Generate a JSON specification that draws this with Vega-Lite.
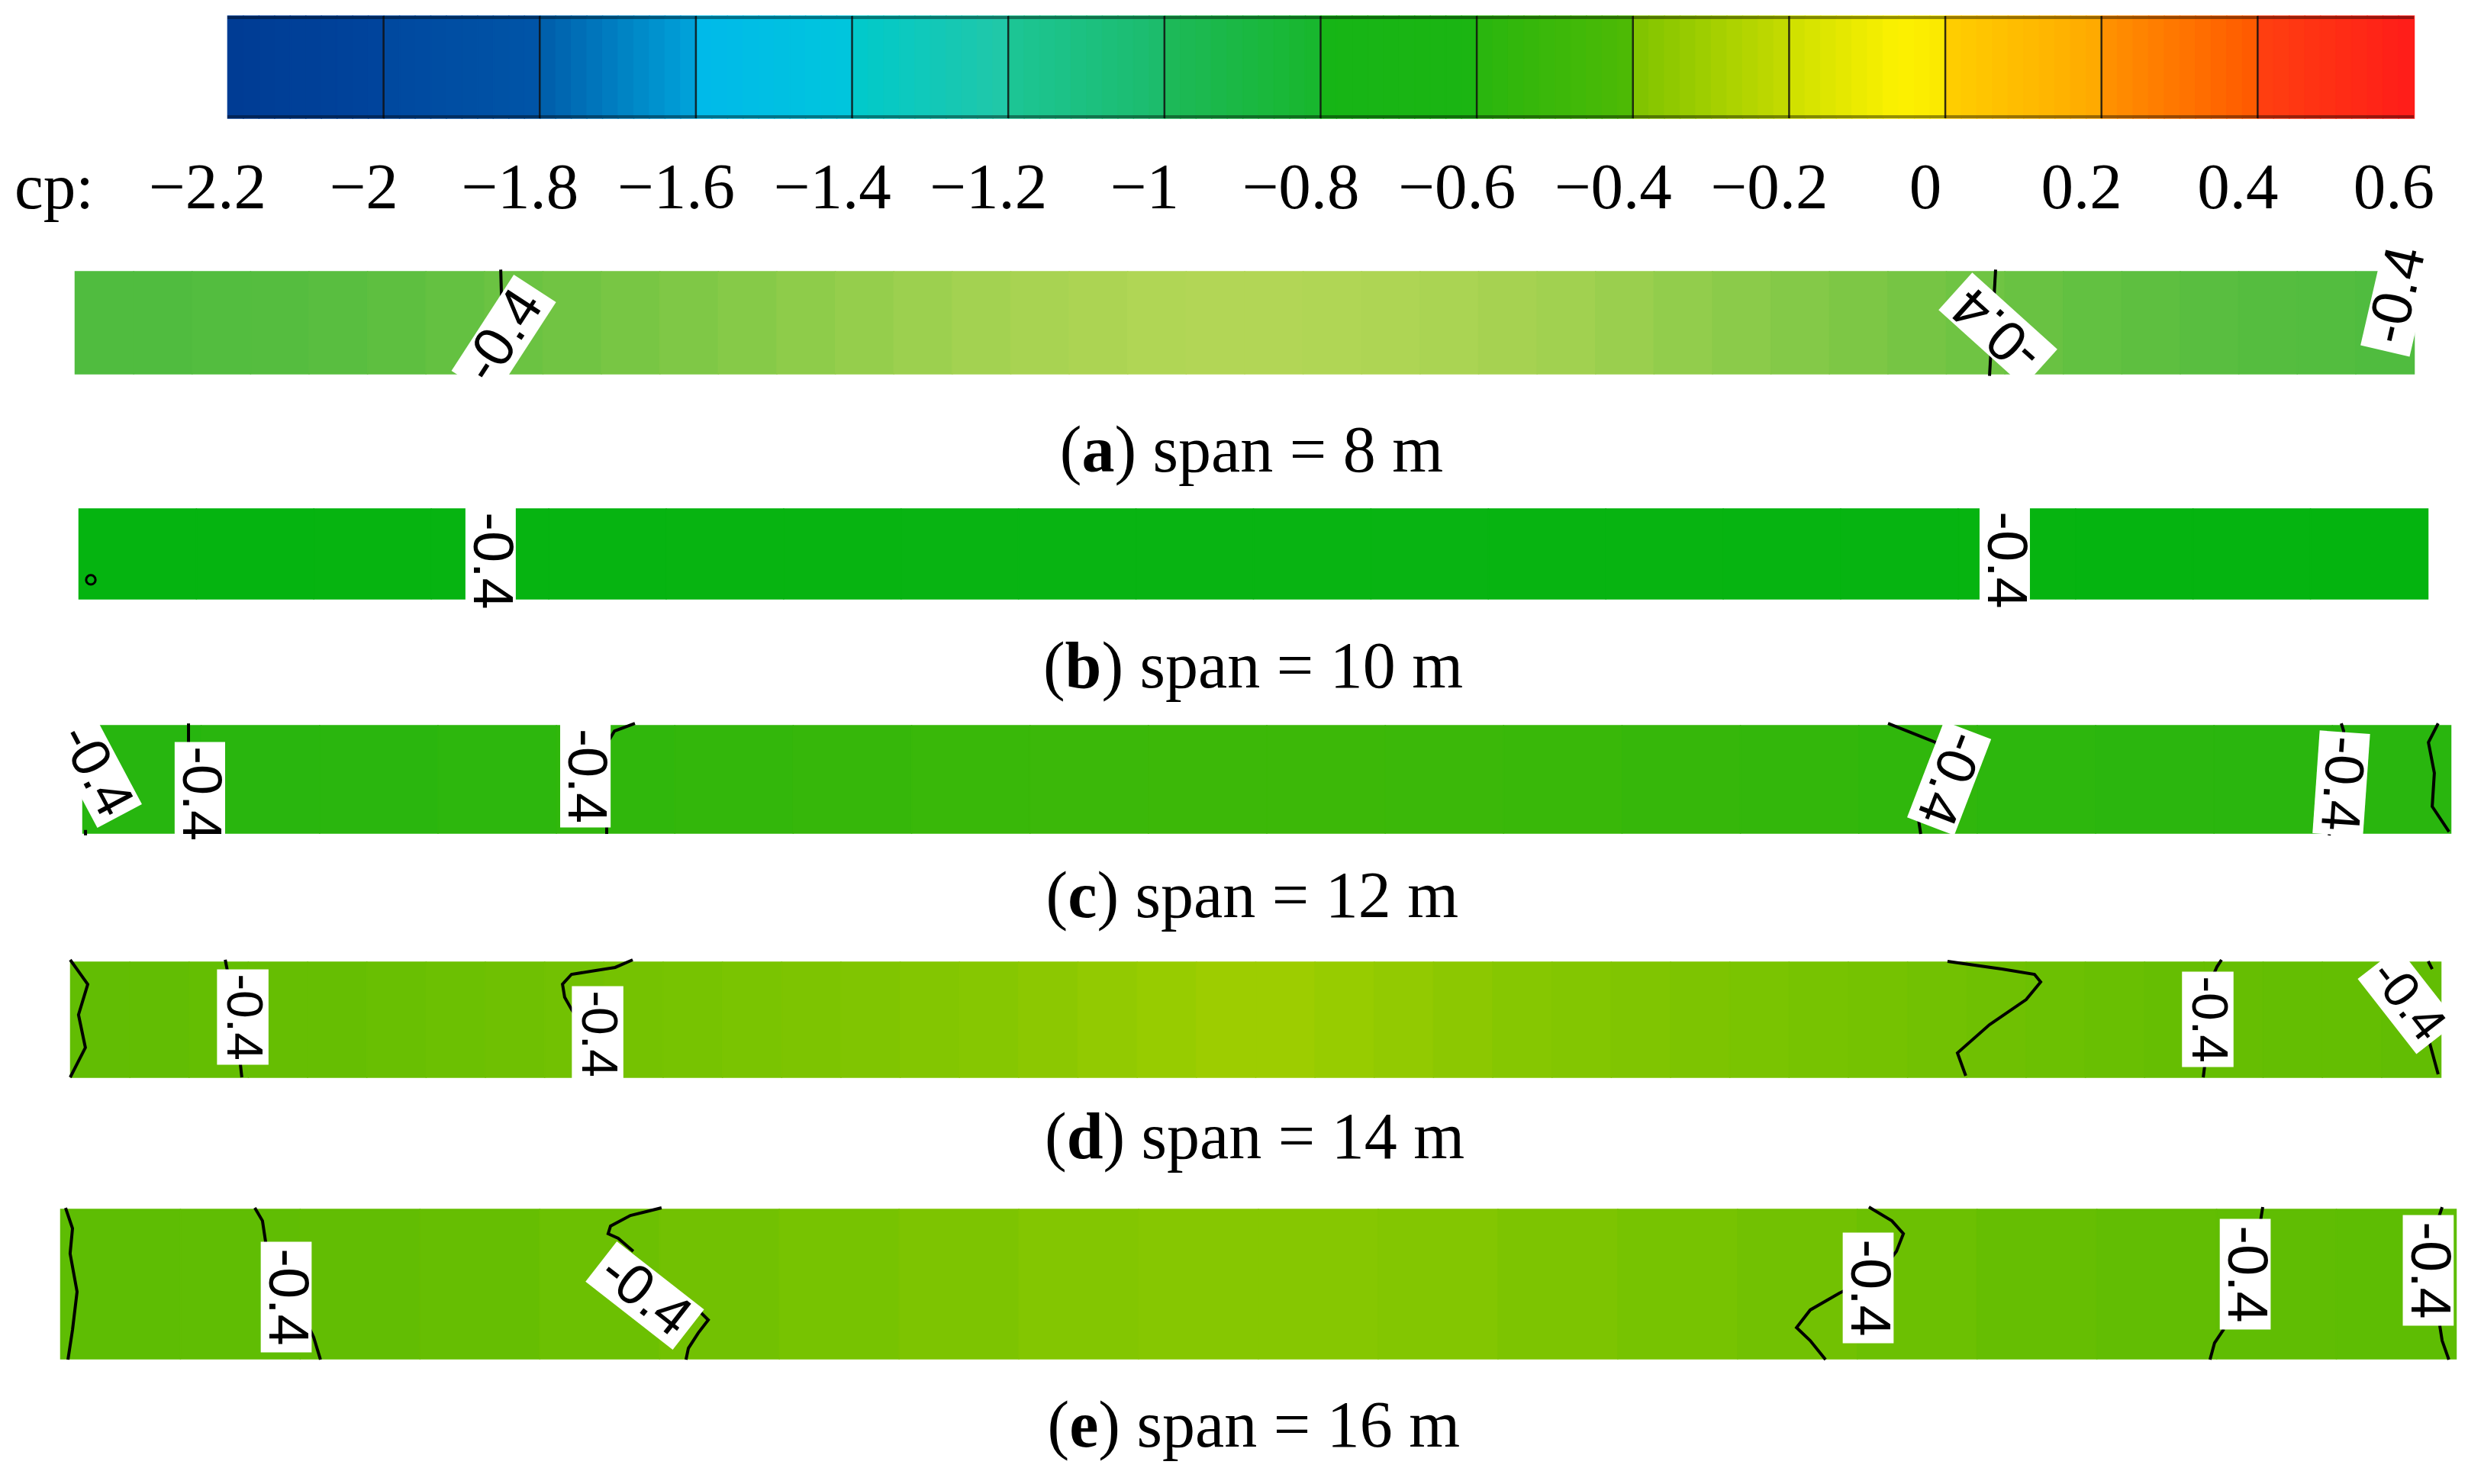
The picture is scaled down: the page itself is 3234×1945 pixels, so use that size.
{
"$schema":"https://vega.github.io/schema/vega-lite/v6.json",
"width":3234,"height":1945,
"autosize":{"type":"fit","contains":"padding"},
"padding":0,
"background":"white",
"config":{"view":{"stroke":null}},
"resolve":{"scale":{"x":"independent","y":"independent","fill":"independent","stroke":"independent","color":"independent"}},
"datasets":{
"cb":[{"cp":-2.19},{"cp":-2.17},{"cp":-2.15},{"cp":-2.13},{"cp":-2.11},{"cp":-2.09},{"cp":-2.07},{"cp":-2.05},{"cp":-2.03},{"cp":-2.01},{"cp":-1.99},{"cp":-1.97},{"cp":-1.95},{"cp":-1.93},{"cp":-1.91},{"cp":-1.89},{"cp":-1.87},{"cp":-1.85},{"cp":-1.83},{"cp":-1.81},{"cp":-1.79},{"cp":-1.77},{"cp":-1.75},{"cp":-1.73},{"cp":-1.71},{"cp":-1.69},{"cp":-1.67},{"cp":-1.65},{"cp":-1.63},{"cp":-1.61},{"cp":-1.59},{"cp":-1.57},{"cp":-1.55},{"cp":-1.53},{"cp":-1.51},{"cp":-1.49},{"cp":-1.47},{"cp":-1.45},{"cp":-1.43},{"cp":-1.41},{"cp":-1.39},{"cp":-1.37},{"cp":-1.35},{"cp":-1.33},{"cp":-1.31},{"cp":-1.29},{"cp":-1.27},{"cp":-1.25},{"cp":-1.23},{"cp":-1.21},{"cp":-1.19},{"cp":-1.17},{"cp":-1.15},{"cp":-1.13},{"cp":-1.11},{"cp":-1.09},{"cp":-1.07},{"cp":-1.05},{"cp":-1.03},{"cp":-1.01},{"cp":-0.99},{"cp":-0.97},{"cp":-0.95},{"cp":-0.93},{"cp":-0.91},{"cp":-0.89},{"cp":-0.87},{"cp":-0.85},{"cp":-0.83},{"cp":-0.81},{"cp":-0.79},{"cp":-0.77},{"cp":-0.75},{"cp":-0.73},{"cp":-0.71},{"cp":-0.69},{"cp":-0.67},{"cp":-0.65},{"cp":-0.63},{"cp":-0.61},{"cp":-0.59},{"cp":-0.57},{"cp":-0.55},{"cp":-0.53},{"cp":-0.51},{"cp":-0.49},{"cp":-0.47},{"cp":-0.45},{"cp":-0.43},{"cp":-0.41},{"cp":-0.39},{"cp":-0.37},{"cp":-0.35},{"cp":-0.33},{"cp":-0.31},{"cp":-0.29},{"cp":-0.27},{"cp":-0.25},{"cp":-0.23},{"cp":-0.21},{"cp":-0.19},{"cp":-0.17},{"cp":-0.15},{"cp":-0.13},{"cp":-0.11},{"cp":-0.09},{"cp":-0.07},{"cp":-0.05},{"cp":-0.03},{"cp":-0.01},{"cp":0.01},{"cp":0.03},{"cp":0.05},{"cp":0.07},{"cp":0.09},{"cp":0.11},{"cp":0.13},{"cp":0.15},{"cp":0.17},{"cp":0.19},{"cp":0.21},{"cp":0.23},{"cp":0.25},{"cp":0.27},{"cp":0.29},{"cp":0.31},{"cp":0.33},{"cp":0.35},{"cp":0.37},{"cp":0.39},{"cp":0.41},{"cp":0.43},{"cp":0.45},{"cp":0.47},{"cp":0.49},{"cp":0.51},{"cp":0.53},{"cp":0.55},{"cp":0.57},{"cp":0.59}],
"cbLevels":[{"v":-2.0},{"v":-1.8},{"v":-1.6},{"v":-1.4},{"v":-1.2},{"v":-1.0},{"v":-0.8},{"v":-0.6},{"v":-0.4},{"v":-0.2},{"v":0},{"v":0.2},{"v":0.4}],
"cbTicks":[{"cp":-2.2},{"cp":-2},{"cp":-1.8},{"cp":-1.6},{"cp":-1.4},{"cp":-1.2},{"cp":-1},{"cp":-0.8},{"cp":-0.6},{"cp":-0.4},{"cp":-0.2},{"cp":0},{"cp":0.2},{"cp":0.4},{"cp":0.6}],
"stripA":[{"s":0.0125,"cp":-0.49},{"s":0.0375,"cp":-0.49},{"s":0.0625,"cp":-0.485},{"s":0.0875,"cp":-0.48},{"s":0.1125,"cp":-0.47},{"s":0.1375,"cp":-0.46},{"s":0.1625,"cp":-0.445},{"s":0.1875,"cp":-0.43},{"s":0.2125,"cp":-0.415},{"s":0.2375,"cp":-0.4},{"s":0.2625,"cp":-0.385},{"s":0.2875,"cp":-0.37},{"s":0.3125,"cp":-0.355},{"s":0.3375,"cp":-0.34},{"s":0.3625,"cp":-0.325},{"s":0.3875,"cp":-0.31},{"s":0.4125,"cp":-0.3},{"s":0.4375,"cp":-0.29},{"s":0.4625,"cp":-0.28},{"s":0.4875,"cp":-0.275},{"s":0.5125,"cp":-0.275},{"s":0.5375,"cp":-0.28},{"s":0.5625,"cp":-0.285},{"s":0.5875,"cp":-0.295},{"s":0.6125,"cp":-0.305},{"s":0.6375,"cp":-0.315},{"s":0.6625,"cp":-0.33},{"s":0.6875,"cp":-0.345},{"s":0.7125,"cp":-0.36},{"s":0.7375,"cp":-0.375},{"s":0.7625,"cp":-0.39},{"s":0.7875,"cp":-0.405},{"s":0.8125,"cp":-0.42},{"s":0.8375,"cp":-0.435},{"s":0.8625,"cp":-0.45},{"s":0.8875,"cp":-0.46},{"s":0.9125,"cp":-0.47},{"s":0.9375,"cp":-0.48},{"s":0.9625,"cp":-0.485},{"s":0.9875,"cp":-0.49}],
"stripB":[{"s":0.025,"cp":-0.74},{"s":0.075,"cp":-0.735},{"s":0.125,"cp":-0.73},{"s":0.175,"cp":-0.725},{"s":0.225,"cp":-0.72},{"s":0.275,"cp":-0.715},{"s":0.325,"cp":-0.71},{"s":0.375,"cp":-0.705},{"s":0.425,"cp":-0.7},{"s":0.475,"cp":-0.7},{"s":0.525,"cp":-0.7},{"s":0.575,"cp":-0.705},{"s":0.625,"cp":-0.71},{"s":0.675,"cp":-0.715},{"s":0.725,"cp":-0.72},{"s":0.775,"cp":-0.725},{"s":0.825,"cp":-0.73},{"s":0.875,"cp":-0.735},{"s":0.925,"cp":-0.74},{"s":0.975,"cp":-0.745}],
"stripC":[{"s":0.025,"cp":-0.57},{"s":0.075,"cp":-0.565},{"s":0.125,"cp":-0.56},{"s":0.175,"cp":-0.55},{"s":0.225,"cp":-0.54},{"s":0.275,"cp":-0.53},{"s":0.325,"cp":-0.52},{"s":0.375,"cp":-0.51},{"s":0.425,"cp":-0.505},{"s":0.475,"cp":-0.5},{"s":0.525,"cp":-0.5},{"s":0.575,"cp":-0.505},{"s":0.625,"cp":-0.51},{"s":0.675,"cp":-0.52},{"s":0.725,"cp":-0.53},{"s":0.775,"cp":-0.54},{"s":0.825,"cp":-0.55},{"s":0.875,"cp":-0.555},{"s":0.925,"cp":-0.56},{"s":0.975,"cp":-0.565}],
"stripD":[{"s":0.0125,"cp":-0.41},{"s":0.0375,"cp":-0.41},{"s":0.0625,"cp":-0.405},{"s":0.0875,"cp":-0.4},{"s":0.1125,"cp":-0.4},{"s":0.1375,"cp":-0.395},{"s":0.1625,"cp":-0.39},{"s":0.1875,"cp":-0.385},{"s":0.2125,"cp":-0.38},{"s":0.2375,"cp":-0.375},{"s":0.2625,"cp":-0.37},{"s":0.2875,"cp":-0.365},{"s":0.3125,"cp":-0.36},{"s":0.3375,"cp":-0.355},{"s":0.3625,"cp":-0.35},{"s":0.3875,"cp":-0.345},{"s":0.4125,"cp":-0.335},{"s":0.4375,"cp":-0.325},{"s":0.4625,"cp":-0.315},{"s":0.4875,"cp":-0.305},{"s":0.5125,"cp":-0.305},{"s":0.5375,"cp":-0.315},{"s":0.5625,"cp":-0.325},{"s":0.5875,"cp":-0.335},{"s":0.6125,"cp":-0.345},{"s":0.6375,"cp":-0.35},{"s":0.6625,"cp":-0.355},{"s":0.6875,"cp":-0.36},{"s":0.7125,"cp":-0.365},{"s":0.7375,"cp":-0.37},{"s":0.7625,"cp":-0.375},{"s":0.7875,"cp":-0.38},{"s":0.8125,"cp":-0.385},{"s":0.8375,"cp":-0.39},{"s":0.8625,"cp":-0.395},{"s":0.8875,"cp":-0.4},{"s":0.9125,"cp":-0.4},{"s":0.9375,"cp":-0.405},{"s":0.9625,"cp":-0.405},{"s":0.9875,"cp":-0.41}],
"stripE":[{"s":0.025,"cp":-0.42},{"s":0.075,"cp":-0.415},{"s":0.125,"cp":-0.41},{"s":0.175,"cp":-0.4},{"s":0.225,"cp":-0.39},{"s":0.275,"cp":-0.38},{"s":0.325,"cp":-0.37},{"s":0.375,"cp":-0.36},{"s":0.425,"cp":-0.35},{"s":0.475,"cp":-0.345},{"s":0.525,"cp":-0.345},{"s":0.575,"cp":-0.35},{"s":0.625,"cp":-0.36},{"s":0.675,"cp":-0.37},{"s":0.725,"cp":-0.38},{"s":0.775,"cp":-0.39},{"s":0.825,"cp":-0.4},{"s":0.875,"cp":-0.41},{"s":0.925,"cp":-0.415},{"s":0.975,"cp":-0.42}],
"contA":[{"c":"c1","i":0,"s":0.1821,"t":1.02},{"c":"c1","i":1,"s":0.1834,"t":-0.02},{"c":"c2","i":0,"s":0.8212,"t":1.02},{"c":"c2","i":1,"s":0.8186,"t":-0.02}],
"labA":[{"s":0.1834,"t":0.366,"rot":-57,"lab":"-0.4"},{"s":0.8222,"t":0.433,"rot":-138,"lab":"-0.4"},{"s":0.9932,"t":0.769,"rot":-77,"lab":"-0.4"}],
"labB":[{"s":0.1754,"t":0.4237,"rot":90,"lab":"-0.4"},{"s":0.82,"t":0.4322,"rot":90,"lab":"-0.4"}],
"loopB":[{"s":0.0052,"t":0.212}],
"contC":[{"c":"c0","i":0,"s":0.0013,"t":0.03},{"c":"c0","i":1,"s":0.0013,"t":-0.02},
{"c":"c1","i":0,"s":0.0448,"t":1.02},{"c":"c1","i":1,"s":0.0448,"t":0.8},
{"c":"c2","i":0,"s":0.2214,"t":0.83},{"c":"c2","i":1,"s":0.2247,"t":0.95},{"c":"c2","i":2,"s":0.2333,"t":1.021},
{"c":"c2b","i":0,"s":0.2214,"t":0.085},{"c":"c2b","i":1,"s":0.2214,"t":-0.007},
{"c":"c3","i":0,"s":0.7625,"t":1.021},{"c":"c3","i":1,"s":0.7825,"t":0.844},{"c":"c3","i":2,"s":0.7883,"t":0.652},
{"c":"c3b","i":0,"s":0.7773,"t":0.298},{"c":"c3b","i":1,"s":0.7754,"t":0.121},{"c":"c3b","i":2,"s":0.7763,"t":-0.007},
{"c":"c4","i":0,"s":0.9539,"t":1.021},{"c":"c4","i":1,"s":0.9549,"t":0.95},{"c":"c4","i":2,"s":0.9546,"t":0.723},
{"c":"c4b","i":0,"s":0.9497,"t":0.156},{"c":"c4b","i":1,"s":0.9488,"t":-0.021},
{"c":"c5","i":0,"s":0.9948,"t":1.021},{"c":"c5","i":1,"s":0.9907,"t":0.844},{"c":"c5","i":2,"s":0.9932,"t":0.56},{"c":"c5","i":3,"s":0.9923,"t":0.248},{"c":"c5","i":4,"s":0.9994,"t":0.014}],
"labC":[{"s":0.0055,"t":0.5816,"rot":62,"lab":"-0.4"},{"s":0.0496,"t":0.3688,"rot":90,"lab":"-0.4"},{"s":0.2124,"t":0.5319,"rot":90,"lab":"-0.4"},{"s":0.7883,"t":0.5106,"rot":111,"lab":"-0.4"},{"s":0.9539,"t":0.461,"rot":94,"lab":"-0.4"}],
"contD":[{"c":"c1","i":0,"s":0,"t":1.02},{"c":"c1","i":1,"s":0.0074,"t":0.808},{"c":"c1","i":2,"s":0.0035,"t":0.543},{"c":"c1","i":3,"s":0.0064,"t":0.258},{"c":"c1","i":4,"s":0,"t":0},
{"c":"c2","i":0,"s":0.0654,"t":1.02},{"c":"c2","i":1,"s":0.0663,"t":0.927},{"c":"c2","i":2,"s":0.067,"t":0.742},
{"c":"c2b","i":0,"s":0.0708,"t":0.212},{"c":"c2b","i":1,"s":0.0718,"t":0.113},{"c":"c2b","i":2,"s":0.0724,"t":0},
{"c":"c3","i":0,"s":0.2373,"t":1.02},{"c":"c3","i":1,"s":0.2299,"t":0.954},{"c":"c3","i":2,"s":0.2115,"t":0.894},{"c":"c3","i":3,"s":0.2077,"t":0.808},{"c":"c3","i":4,"s":0.2086,"t":0.695},{"c":"c3","i":5,"s":0.2115,"t":0.589},{"c":"c3","i":6,"s":0.2151,"t":0.477},
{"c":"c4","i":0,"s":0.792,"t":1.007},{"c":"c4","i":1,"s":0.8149,"t":0.94},{"c":"c4","i":2,"s":0.8287,"t":0.894},{"c":"c4","i":3,"s":0.8313,"t":0.828},{"c":"c4","i":4,"s":0.8252,"t":0.675},{"c":"c4","i":5,"s":0.8097,"t":0.457},{"c":"c4","i":6,"s":0.7962,"t":0.212},{"c":"c4","i":7,"s":0.7997,"t":0.013},
{"c":"c5","i":0,"s":0.9076,"t":1.02},{"c":"c5","i":1,"s":0.9057,"t":0.96},{"c":"c5","i":2,"s":0.9024,"t":0.808},
{"c":"c5b","i":0,"s":0.9008,"t":0.212},{"c":"c5b","i":1,"s":0.9005,"t":0.099},{"c":"c5b","i":2,"s":0.8999,"t":0},
{"c":"c6","i":0,"s":0.9948,"t":1.007},{"c":"c6","i":1,"s":0.9965,"t":0.94},
{"c":"c6b","i":0,"s":0.9948,"t":0.344},{"c":"c6b","i":1,"s":0.999,"t":0.026}],
"labD":[{"s":0.0728,"t":0.5232,"rot":90,"lab":"-0.4"},{"s":0.2225,"t":0.3775,"rot":90,"lab":"-0.4"},{"s":0.9018,"t":0.5033,"rot":90,"lab":"-0.4"},{"s":0.986,"t":0.665,"rot":52,"lab":"-0.4"}],
"contE":[{"c":"c1","i":0,"s":0.0022,"t":1.01},{"c":"c1","i":1,"s":0.0051,"t":0.872},{"c":"c1","i":2,"s":0.0041,"t":0.704},{"c":"c1","i":3,"s":0.007,"t":0.449},{"c":"c1","i":4,"s":0.0051,"t":0.194},{"c":"c1","i":5,"s":0.0032,"t":-0.005},
{"c":"c2","i":0,"s":0.0812,"t":1.01},{"c":"c2","i":1,"s":0.0844,"t":0.923},{"c":"c2","i":2,"s":0.0863,"t":0.719},
{"c":"c2b","i":0,"s":0.1039,"t":0.209},{"c":"c2b","i":1,"s":0.1058,"t":0.143},{"c":"c2b","i":2,"s":0.1086,"t":-0.005},
{"c":"c3","i":0,"s":0.251,"t":1.01},{"c":"c3","i":1,"s":0.2459,"t":0.99},{"c":"c3","i":2,"s":0.238,"t":0.959},{"c":"c3","i":3,"s":0.2297,"t":0.888},{"c":"c3","i":4,"s":0.2287,"t":0.837},{"c":"c3","i":5,"s":0.2329,"t":0.806},{"c":"c3","i":6,"s":0.2392,"t":0.719},
{"c":"c3b","i":0,"s":0.2631,"t":0.362},{"c":"c3b","i":1,"s":0.2673,"t":0.311},{"c":"c3b","i":2,"s":0.2705,"t":0.26},{"c":"c3b","i":3,"s":0.2663,"t":0.173},{"c":"c3b","i":4,"s":0.2622,"t":0.071},{"c":"c3b","i":5,"s":0.2612,"t":-0.005},
{"c":"c4","i":0,"s":0.755,"t":1.015},{"c":"c4","i":1,"s":0.7646,"t":0.923},{"c":"c4","i":2,"s":0.7694,"t":0.837},{"c":"c4","i":3,"s":0.7665,"t":0.719},{"c":"c4","i":4,"s":0.7617,"t":0.617},
{"c":"c4b","i":0,"s":0.7458,"t":0.464},{"c":"c4b","i":1,"s":0.7426,"t":0.439},{"c":"c4b","i":2,"s":0.7305,"t":0.327},{"c":"c4b","i":3,"s":0.7248,"t":0.209},{"c":"c4b","i":4,"s":0.7305,"t":0.122},{"c":"c4b","i":5,"s":0.7369,"t":-0.005},
{"c":"c5","i":0,"s":0.9194,"t":1.015},{"c":"c5","i":1,"s":0.9185,"t":0.923},
{"c":"c5b","i":0,"s":0.9032,"t":0.199},{"c":"c5b","i":1,"s":0.8993,"t":0.107},{"c":"c5b","i":2,"s":0.8974,"t":-0.005},
{"c":"c6","i":0,"s":0.9943,"t":1.015},{"c":"c6","i":1,"s":0.9924,"t":0.923},
{"c":"c6b","i":0,"s":0.9933,"t":0.224},{"c":"c6b","i":1,"s":0.9943,"t":0.122},{"c":"c6b","i":2,"s":0.9971,"t":-0.005}],
"labE":[{"s":0.0943,"t":0.4133,"rot":90,"lab":"-0.4"},{"s":0.244,"t":0.4235,"rot":38,"lab":"-0.4"},{"s":0.7547,"t":0.4745,"rot":90,"lab":"-0.4"},{"s":0.9121,"t":0.5663,"rot":90,"lab":"-0.4"},{"s":0.9885,"t":0.5918,"rot":90,"lab":"-0.4"}],
"capA":[{"open":"(","letter":"a","rest":") span = 8 m"}],
"capB":[{"open":"(","letter":"b","rest":") span = 10 m"}],
"capC":[{"open":"(","letter":"c","rest":") span = 12 m"}],
"capD":[{"open":"(","letter":"d","rest":") span = 14 m"}],
"capE":[{"open":"(","letter":"e","rest":") span = 16 m"}],
"cpTitle":[{"t":"cp:"}]
},
"layer":[
{"layer":[
 {"data":{"name":"cb"},"mark":{"type":"rect","binSpacing":0,"strokeWidth":1.5},
  "encoding":{"x":{"field":"cp","type":"quantitative","bin":{"step":0.02,"extent":[-2.2,0.6]},"scale":{"domain":[-2.4912,0.6694],"nice":false,"zero":false},"axis":null},
   "y":{"datum":0,"type":"quantitative","scale":{"domain":[-13.35821,1.15672],"nice":false,"zero":false},"axis":null},"y2":{"datum":1},
   "fill":{"field":"cp","type":"quantitative","legend":null,"scale":{"domain":[-2.2,-2.0,-1.9999,-1.8,-1.7999,-1.6,-1.5999,-1.4,-1.3999,-1.2,-1.1999,-1.0,-0.9999,-0.8,-0.7999,-0.6,-0.5999,-0.4,-0.3999,-0.2,-0.1999,-0.06,0,0.0001,0.2,0.2001,0.4,0.4001,0.6],"range":["#003c94","#00449c","#00489f","#0055a7","#005caa","#00a4da","#00b9ea","#00c6dc","#00c9cc","#22c8a6","#1cc596","#1cbb6a","#1db95a","#18b72c","#16b516","#1bb512","#28b60e","#4fba05","#7ec300","#c6db00","#cee000","#fcf100","#fbe900","#ffcf00","#ffa800","#ff9300","#ff5800","#ff4010","#ff1c1a"],"interpolate":"rgb"}},
   "stroke":{"field":"cp","type":"quantitative","legend":null,"scale":{"domain":[-2.2,-2.0,-1.9999,-1.8,-1.7999,-1.6,-1.5999,-1.4,-1.3999,-1.2,-1.1999,-1.0,-0.9999,-0.8,-0.7999,-0.6,-0.5999,-0.4,-0.3999,-0.2,-0.1999,-0.06,0,0.0001,0.2,0.2001,0.4,0.4001,0.6],"range":["#003c94","#00449c","#00489f","#0055a7","#005caa","#00a4da","#00b9ea","#00c6dc","#00c9cc","#22c8a6","#1cc596","#1cbb6a","#1db95a","#18b72c","#16b516","#1bb512","#28b60e","#4fba05","#7ec300","#c6db00","#cee000","#fcf100","#fbe900","#ffcf00","#ffa800","#ff9300","#ff5800","#ff4010","#ff1c1a"],"interpolate":"rgb"}}}},
 {"data":{"name":"cbLevels"},"mark":{"type":"rule","color":"#111111","strokeWidth":2.5,"opacity":0.85},
  "encoding":{"x":{"field":"v","type":"quantitative","scale":{"domain":[-2.4912,0.6694],"nice":false,"zero":false},"axis":null},
   "y":{"datum":0,"type":"quantitative","scale":{"domain":[-13.35821,1.15672],"nice":false,"zero":false},"axis":null},"y2":{"datum":1}}},
 {"data":{"values":[{}]},"mark":{"type":"rule","color":"#000000","strokeWidth":4,"opacity":0.4},
  "encoding":{"x":{"datum":-2.2,"type":"quantitative","scale":{"domain":[-2.4912,0.6694],"nice":false,"zero":false},"axis":null},"x2":{"datum":0.6},
   "y":{"datum":0.985,"type":"quantitative","scale":{"domain":[-13.35821,1.15672],"nice":false,"zero":false},"axis":null}}},
 {"data":{"values":[{}]},"mark":{"type":"rule","color":"#000000","strokeWidth":4,"opacity":0.4},
  "encoding":{"x":{"datum":-2.2,"type":"quantitative","scale":{"domain":[-2.4912,0.6694],"nice":false,"zero":false},"axis":null},"x2":{"datum":0.6},
   "y":{"datum":0.015,"type":"quantitative","scale":{"domain":[-13.35821,1.15672],"nice":false,"zero":false},"axis":null}}},
 {"data":{"name":"cbTicks"},"mark":{"type":"text","font":"Liberation Serif","fontSize":85,"baseline":"alphabetic","align":"center","dx":-26,"color":"#000000"},
  "encoding":{"x":{"field":"cp","type":"quantitative","scale":{"domain":[-2.4912,0.6694],"nice":false,"zero":false},"axis":null},
   "y":{"datum":-0.8806,"type":"quantitative","scale":{"domain":[-13.35821,1.15672],"nice":false,"zero":false},"axis":null},
   "text":{"field":"cp","type":"quantitative","format":"~g"}}},
 {"data":{"name":"cpTitle"},"mark":{"type":"text","font":"Liberation Serif","fontSize":85,"baseline":"alphabetic","align":"left","color":"#000000"},
  "encoding":{"x":{"datum":-2.4726,"type":"quantitative","scale":{"domain":[-2.4912,0.6694],"nice":false,"zero":false},"axis":null},
   "y":{"datum":-0.8806,"type":"quantitative","scale":{"domain":[-13.35821,1.15672],"nice":false,"zero":false},"axis":null},
   "text":{"field":"t"}}}
]},
{"layer":[
 {"data":{"name":"stripA"},"mark":{"type":"rect","binSpacing":0,"strokeWidth":1.5},
  "encoding":{"x":{"field":"s","type":"quantitative","bin":{"step":0.025,"extent":[0,1]},"scale":{"domain":[-0.03197,1.02316],"nice":false,"zero":false},"axis":null},
   "y":{"datum":0,"type":"quantitative","scale":{"domain":[-10.85821,3.65672],"nice":false,"zero":false},"axis":null},"y2":{"datum":1},
   "fill":{"field":"cp","type":"quantitative","legend":null,"scale":{"domain":[-0.8,-0.7,-0.6,-0.5,-0.4,-0.3,-0.2,0],"range":["#2ab83c","#30b93e","#3cba40","#4cbb3e","#78c644","#a8d352","#cfe060","#fff060"],"interpolate":"rgb"}},
   "stroke":{"field":"cp","type":"quantitative","legend":null,"scale":{"domain":[-0.8,-0.7,-0.6,-0.5,-0.4,-0.3,-0.2,0],"range":["#2ab83c","#30b93e","#3cba40","#4cbb3e","#78c644","#a8d352","#cfe060","#fff060"],"interpolate":"rgb"}}}},
 {"data":{"name":"contA"},"mark":{"type":"line","color":"#000000","strokeWidth":4},
  "encoding":{"x":{"field":"s","type":"quantitative","scale":{"domain":[-0.03197,1.02316],"nice":false,"zero":false},"axis":null},
   "y":{"field":"t","type":"quantitative","scale":{"domain":[-10.85821,3.65672],"nice":false,"zero":false},"axis":null},
   "detail":{"field":"c","type":"nominal"},"order":{"field":"i","type":"quantitative"}}},
 {"data":{"name":"labA"},"mark":{"type":"point","shape":"M-1,-0.44H1V0.44H-1Z","filled":true,"color":"white","opacity":1,"strokeWidth":0,"size":22500},
  "encoding":{"x":{"field":"s","type":"quantitative","scale":{"domain":[-0.03197,1.02316],"nice":false,"zero":false},"axis":null},
   "y":{"field":"t","type":"quantitative","scale":{"domain":[-10.85821,3.65672],"nice":false,"zero":false},"axis":null},
   "angle":{"field":"rot","type":"quantitative","scale":null}}},
 {"data":{"name":"labA"},"mark":{"type":"text","font":"Liberation Sans","fontSize":74,"align":"center","baseline":"middle","color":"#000000"},
  "encoding":{"x":{"field":"s","type":"quantitative","scale":{"domain":[-0.03197,1.02316],"nice":false,"zero":false},"axis":null},
   "y":{"field":"t","type":"quantitative","scale":{"domain":[-10.85821,3.65672],"nice":false,"zero":false},"axis":null},
   "angle":{"field":"rot","type":"quantitative","scale":null},"text":{"field":"lab"}}},
 {"data":{"name":"capA"},"mark":{"type":"text","font":"Liberation Serif","fontSize":86,"align":"right","baseline":"middle","dx":-222.6,"color":"#000000"},
  "encoding":{"x":{"datum":0.5031,"type":"quantitative","scale":{"domain":[-0.03197,1.02316],"nice":false,"zero":false},"axis":null},
   "y":{"datum":-0.761,"type":"quantitative","scale":{"domain":[-10.85821,3.65672],"nice":false,"zero":false},"axis":null},"text":{"field":"open"}}},
 {"data":{"name":"capA"},"mark":{"type":"text","font":"Liberation Serif","fontSize":86,"fontWeight":"bold","align":"left","baseline":"middle","dx":-222.6,"color":"#000000"},
  "encoding":{"x":{"datum":0.5031,"type":"quantitative","scale":{"domain":[-0.03197,1.02316],"nice":false,"zero":false},"axis":null},
   "y":{"datum":-0.761,"type":"quantitative","scale":{"domain":[-10.85821,3.65672],"nice":false,"zero":false},"axis":null},"text":{"field":"letter"}}},
 {"data":{"name":"capA"},"mark":{"type":"text","font":"Liberation Serif","fontSize":86,"align":"left","baseline":"middle","dx":-179.6,"color":"#000000"},
  "encoding":{"x":{"datum":0.5031,"type":"quantitative","scale":{"domain":[-0.03197,1.02316],"nice":false,"zero":false},"axis":null},
   "y":{"datum":-0.761,"type":"quantitative","scale":{"domain":[-10.85821,3.65672],"nice":false,"zero":false},"axis":null},"text":{"field":"rest"}}}
]},
{"layer":[
 {"data":{"name":"stripB"},"mark":{"type":"rect","binSpacing":0,"strokeWidth":1.5},
  "encoding":{"x":{"field":"s","type":"quantitative","bin":{"step":0.05,"extent":[0,1]},"scale":{"domain":[-0.03346,1.01722],"nice":false,"zero":false},"axis":null},
   "y":{"datum":0,"type":"quantitative","scale":{"domain":[-9.83051,6.65254],"nice":false,"zero":false},"axis":null},"y2":{"datum":1},
   "fill":{"field":"cp","type":"quantitative","legend":null,"scale":{"domain":[-0.8,-0.7,-0.6,-0.5,-0.4,-0.3,-0.2,0],"range":["#00b30c","#08b412","#1eb512","#3cb808","#66be02","#a0ce00","#cce000","#fff000"],"interpolate":"rgb"}},
   "stroke":{"field":"cp","type":"quantitative","legend":null,"scale":{"domain":[-0.8,-0.7,-0.6,-0.5,-0.4,-0.3,-0.2,0],"range":["#00b30c","#08b412","#1eb512","#3cb808","#66be02","#a0ce00","#cce000","#fff000"],"interpolate":"rgb"}}}},
 {"data":{"name":"loopB"},"mark":{"type":"point","shape":"circle","filled":false,"color":"#000000","opacity":1,"strokeWidth":3,"size":150},
  "encoding":{"x":{"field":"s","type":"quantitative","scale":{"domain":[-0.03346,1.01722],"nice":false,"zero":false},"axis":null},
   "y":{"field":"t","type":"quantitative","scale":{"domain":[-9.83051,6.65254],"nice":false,"zero":false},"axis":null}}},
 {"data":{"name":"labB"},"mark":{"type":"point","shape":"M-1,-0.44H1V0.44H-1Z","filled":true,"color":"white","opacity":1,"strokeWidth":0,"size":22500},
  "encoding":{"x":{"field":"s","type":"quantitative","scale":{"domain":[-0.03346,1.01722],"nice":false,"zero":false},"axis":null},
   "y":{"field":"t","type":"quantitative","scale":{"domain":[-9.83051,6.65254],"nice":false,"zero":false},"axis":null},
   "angle":{"field":"rot","type":"quantitative","scale":null}}},
 {"data":{"name":"labB"},"mark":{"type":"text","font":"Liberation Sans","fontSize":74,"align":"center","baseline":"middle","color":"#000000"},
  "encoding":{"x":{"field":"s","type":"quantitative","scale":{"domain":[-0.03346,1.01722],"nice":false,"zero":false},"axis":null},
   "y":{"field":"t","type":"quantitative","scale":{"domain":[-9.83051,6.65254],"nice":false,"zero":false},"axis":null},
   "angle":{"field":"rot","type":"quantitative","scale":null},"text":{"field":"lab"}}},
 {"data":{"name":"capB"},"mark":{"type":"text","font":"Liberation Serif","fontSize":86,"align":"right","baseline":"middle","dx":-246.4,"color":"#000000"},
  "encoding":{"x":{"datum":0.5,"type":"quantitative","scale":{"domain":[-0.03346,1.01722],"nice":false,"zero":false},"axis":null},
   "y":{"datum":-0.7627,"type":"quantitative","scale":{"domain":[-9.83051,6.65254],"nice":false,"zero":false},"axis":null},"text":{"field":"open"}}},
 {"data":{"name":"capB"},"mark":{"type":"text","font":"Liberation Serif","fontSize":86,"fontWeight":"bold","align":"left","baseline":"middle","dx":-246.4,"color":"#000000"},
  "encoding":{"x":{"datum":0.5,"type":"quantitative","scale":{"domain":[-0.03346,1.01722],"nice":false,"zero":false},"axis":null},
   "y":{"datum":-0.7627,"type":"quantitative","scale":{"domain":[-9.83051,6.65254],"nice":false,"zero":false},"axis":null},"text":{"field":"letter"}}},
 {"data":{"name":"capB"},"mark":{"type":"text","font":"Liberation Serif","fontSize":86,"align":"left","baseline":"middle","dx":-198.6,"color":"#000000"},
  "encoding":{"x":{"datum":0.5,"type":"quantitative","scale":{"domain":[-0.03346,1.01722],"nice":false,"zero":false},"axis":null},
   "y":{"datum":-0.7627,"type":"quantitative","scale":{"domain":[-9.83051,6.65254],"nice":false,"zero":false},"axis":null},"text":{"field":"rest"}}}
]},
{"layer":[
 {"data":{"name":"stripC"},"mark":{"type":"rect","binSpacing":0,"strokeWidth":1.5},
  "encoding":{"x":{"field":"s","type":"quantitative","bin":{"step":0.05,"extent":[0,1]},"scale":{"domain":[-0.03481,1.00741],"nice":false,"zero":false},"axis":null},
   "y":{"datum":0,"type":"quantitative","scale":{"domain":[-6.04965,7.74468],"nice":false,"zero":false},"axis":null},"y2":{"datum":1},
   "fill":{"field":"cp","type":"quantitative","legend":null,"scale":{"domain":[-0.8,-0.7,-0.6,-0.5,-0.4,-0.3,-0.2,0],"range":["#00b30c","#0cb412","#1eb512","#3cb808","#66be02","#a0ce00","#cce000","#fff000"],"interpolate":"rgb"}},
   "stroke":{"field":"cp","type":"quantitative","legend":null,"scale":{"domain":[-0.8,-0.7,-0.6,-0.5,-0.4,-0.3,-0.2,0],"range":["#00b30c","#0cb412","#1eb512","#3cb808","#66be02","#a0ce00","#cce000","#fff000"],"interpolate":"rgb"}}}},
 {"data":{"name":"contC"},"mark":{"type":"line","color":"#000000","strokeWidth":4},
  "encoding":{"x":{"field":"s","type":"quantitative","scale":{"domain":[-0.03481,1.00741],"nice":false,"zero":false},"axis":null},
   "y":{"field":"t","type":"quantitative","scale":{"domain":[-6.04965,7.74468],"nice":false,"zero":false},"axis":null},
   "detail":{"field":"c","type":"nominal"},"order":{"field":"i","type":"quantitative"}}},
 {"data":{"name":"labC"},"mark":{"type":"point","shape":"M-1,-0.49H1V0.49H-1Z","filled":true,"color":"white","opacity":1,"strokeWidth":0,"size":18225},
  "encoding":{"x":{"field":"s","type":"quantitative","scale":{"domain":[-0.03481,1.00741],"nice":false,"zero":false},"axis":null},
   "y":{"field":"t","type":"quantitative","scale":{"domain":[-6.04965,7.74468],"nice":false,"zero":false},"axis":null},
   "angle":{"field":"rot","type":"quantitative","scale":null}}},
 {"data":{"name":"labC"},"mark":{"type":"text","font":"Liberation Sans","fontSize":72,"align":"center","baseline":"middle","color":"#000000"},
  "encoding":{"x":{"field":"s","type":"quantitative","scale":{"domain":[-0.03481,1.00741],"nice":false,"zero":false},"axis":null},
   "y":{"field":"t","type":"quantitative","scale":{"domain":[-6.04965,7.74468],"nice":false,"zero":false},"axis":null},
   "angle":{"field":"rot","type":"quantitative","scale":null},"text":{"field":"lab"}}},
 {"data":{"name":"capC"},"mark":{"type":"text","font":"Liberation Serif","fontSize":86,"align":"right","baseline":"middle","dx":-241.7,"color":"#000000"},
  "encoding":{"x":{"datum":0.494,"type":"quantitative","scale":{"domain":[-0.03481,1.00741],"nice":false,"zero":false},"axis":null},
   "y":{"datum":-0.5957,"type":"quantitative","scale":{"domain":[-6.04965,7.74468],"nice":false,"zero":false},"axis":null},"text":{"field":"open"}}},
 {"data":{"name":"capC"},"mark":{"type":"text","font":"Liberation Serif","fontSize":86,"fontWeight":"bold","align":"left","baseline":"middle","dx":-241.7,"color":"#000000"},
  "encoding":{"x":{"datum":0.494,"type":"quantitative","scale":{"domain":[-0.03481,1.00741],"nice":false,"zero":false},"axis":null},
   "y":{"datum":-0.5957,"type":"quantitative","scale":{"domain":[-6.04965,7.74468],"nice":false,"zero":false},"axis":null},"text":{"field":"letter"}}},
 {"data":{"name":"capC"},"mark":{"type":"text","font":"Liberation Serif","fontSize":86,"align":"left","baseline":"middle","dx":-203.5,"color":"#000000"},
  "encoding":{"x":{"datum":0.494,"type":"quantitative","scale":{"domain":[-0.03481,1.00741],"nice":false,"zero":false},"axis":null},
   "y":{"datum":-0.5957,"type":"quantitative","scale":{"domain":[-6.04965,7.74468],"nice":false,"zero":false},"axis":null},"text":{"field":"rest"}}}
]},
{"layer":[
 {"data":{"name":"stripD"},"mark":{"type":"rect","binSpacing":0,"strokeWidth":1.5},
  "encoding":{"x":{"field":"s","type":"quantitative","bin":{"step":0.025,"extent":[0,1]},"scale":{"domain":[-0.02962,1.01159],"nice":false,"zero":false},"axis":null},
   "y":{"datum":0,"type":"quantitative","scale":{"domain":[-3.5298,9.35099],"nice":false,"zero":false},"axis":null},"y2":{"datum":1},
   "fill":{"field":"cp","type":"quantitative","legend":null,"scale":{"domain":[-0.8,-0.7,-0.6,-0.5,-0.4,-0.3,-0.2,0],"range":["#00b30c","#0cb412","#1eb512","#3cb808","#66be02","#a0ce00","#cce000","#fff000"],"interpolate":"rgb"}},
   "stroke":{"field":"cp","type":"quantitative","legend":null,"scale":{"domain":[-0.8,-0.7,-0.6,-0.5,-0.4,-0.3,-0.2,0],"range":["#00b30c","#0cb412","#1eb512","#3cb808","#66be02","#a0ce00","#cce000","#fff000"],"interpolate":"rgb"}}}},
 {"data":{"name":"contD"},"mark":{"type":"line","color":"#000000","strokeWidth":4},
  "encoding":{"x":{"field":"s","type":"quantitative","scale":{"domain":[-0.02962,1.01159],"nice":false,"zero":false},"axis":null},
   "y":{"field":"t","type":"quantitative","scale":{"domain":[-3.5298,9.35099],"nice":false,"zero":false},"axis":null},
   "detail":{"field":"c","type":"nominal"},"order":{"field":"i","type":"quantitative"}}},
 {"data":{"name":"labD"},"mark":{"type":"point","shape":"M-1,-0.54H1V0.54H-1Z","filled":true,"color":"white","opacity":1,"strokeWidth":0,"size":15625},
  "encoding":{"x":{"field":"s","type":"quantitative","scale":{"domain":[-0.02962,1.01159],"nice":false,"zero":false},"axis":null},
   "y":{"field":"t","type":"quantitative","scale":{"domain":[-3.5298,9.35099],"nice":false,"zero":false},"axis":null},
   "angle":{"field":"rot","type":"quantitative","scale":null}}},
 {"data":{"name":"labD"},"mark":{"type":"text","font":"Liberation Sans","fontSize":66,"align":"center","baseline":"middle","color":"#000000"},
  "encoding":{"x":{"field":"s","type":"quantitative","scale":{"domain":[-0.02962,1.01159],"nice":false,"zero":false},"axis":null},
   "y":{"field":"t","type":"quantitative","scale":{"domain":[-3.5298,9.35099],"nice":false,"zero":false},"axis":null},
   "angle":{"field":"rot","type":"quantitative","scale":null},"text":{"field":"lab"}}},
 {"data":{"name":"capD"},"mark":{"type":"text","font":"Liberation Serif","fontSize":86,"align":"right","baseline":"middle","dx":-246.4,"color":"#000000"},
  "encoding":{"x":{"datum":0.4997,"type":"quantitative","scale":{"domain":[-0.02962,1.01159],"nice":false,"zero":false},"axis":null},
   "y":{"datum":-0.5298,"type":"quantitative","scale":{"domain":[-3.5298,9.35099],"nice":false,"zero":false},"axis":null},"text":{"field":"open"}}},
 {"data":{"name":"capD"},"mark":{"type":"text","font":"Liberation Serif","fontSize":86,"fontWeight":"bold","align":"left","baseline":"middle","dx":-246.4,"color":"#000000"},
  "encoding":{"x":{"datum":0.4997,"type":"quantitative","scale":{"domain":[-0.02962,1.01159],"nice":false,"zero":false},"axis":null},
   "y":{"datum":-0.5298,"type":"quantitative","scale":{"domain":[-3.5298,9.35099],"nice":false,"zero":false},"axis":null},"text":{"field":"letter"}}},
 {"data":{"name":"capD"},"mark":{"type":"text","font":"Liberation Serif","fontSize":86,"align":"left","baseline":"middle","dx":-198.6,"color":"#000000"},
  "encoding":{"x":{"datum":0.4997,"type":"quantitative","scale":{"domain":[-0.02962,1.01159],"nice":false,"zero":false},"axis":null},
   "y":{"datum":-0.5298,"type":"quantitative","scale":{"domain":[-3.5298,9.35099],"nice":false,"zero":false},"axis":null},"text":{"field":"rest"}}}
]},
{"layer":[
 {"data":{"name":"stripE"},"mark":{"type":"rect","binSpacing":0,"strokeWidth":1.5},
  "encoding":{"x":{"field":"s","type":"quantitative","bin":{"step":0.05,"extent":[0,1]},"scale":{"domain":[-0.02517,1.0051],"nice":false,"zero":false},"axis":null},
   "y":{"datum":0,"type":"quantitative","scale":{"domain":[-0.83674,9.08673],"nice":false,"zero":false},"axis":null},"y2":{"datum":1},
   "fill":{"field":"cp","type":"quantitative","legend":null,"scale":{"domain":[-0.8,-0.7,-0.6,-0.5,-0.4,-0.3,-0.2,0],"range":["#00b30c","#0cb412","#1eb512","#3cb808","#66be02","#a0ce00","#cce000","#fff000"],"interpolate":"rgb"}},
   "stroke":{"field":"cp","type":"quantitative","legend":null,"scale":{"domain":[-0.8,-0.7,-0.6,-0.5,-0.4,-0.3,-0.2,0],"range":["#00b30c","#0cb412","#1eb512","#3cb808","#66be02","#a0ce00","#cce000","#fff000"],"interpolate":"rgb"}}}},
 {"data":{"name":"contE"},"mark":{"type":"line","color":"#000000","strokeWidth":4},
  "encoding":{"x":{"field":"s","type":"quantitative","scale":{"domain":[-0.02517,1.0051],"nice":false,"zero":false},"axis":null},
   "y":{"field":"t","type":"quantitative","scale":{"domain":[-0.83674,9.08673],"nice":false,"zero":false},"axis":null},
   "detail":{"field":"c","type":"nominal"},"order":{"field":"i","type":"quantitative"}}},
 {"data":{"name":"labE"},"mark":{"type":"point","shape":"M-1,-0.46H1V0.46H-1Z","filled":true,"color":"white","opacity":1,"strokeWidth":0,"size":21025},
  "encoding":{"x":{"field":"s","type":"quantitative","scale":{"domain":[-0.02517,1.0051],"nice":false,"zero":false},"axis":null},
   "y":{"field":"t","type":"quantitative","scale":{"domain":[-0.83674,9.08673],"nice":false,"zero":false},"axis":null},
   "angle":{"field":"rot","type":"quantitative","scale":null}}},
 {"data":{"name":"labE"},"mark":{"type":"text","font":"Liberation Sans","fontSize":74,"align":"center","baseline":"middle","color":"#000000"},
  "encoding":{"x":{"field":"s","type":"quantitative","scale":{"domain":[-0.02517,1.0051],"nice":false,"zero":false},"axis":null},
   "y":{"field":"t","type":"quantitative","scale":{"domain":[-0.83674,9.08673],"nice":false,"zero":false},"axis":null},
   "angle":{"field":"rot","type":"quantitative","scale":null},"text":{"field":"lab"}}},
 {"data":{"name":"capE"},"mark":{"type":"text","font":"Liberation Serif","fontSize":86,"align":"right","baseline":"middle","dx":-241.7,"color":"#000000"},
  "encoding":{"x":{"datum":0.4982,"type":"quantitative","scale":{"domain":[-0.02517,1.0051],"nice":false,"zero":false},"axis":null},
   "y":{"datum":-0.4541,"type":"quantitative","scale":{"domain":[-0.83674,9.08673],"nice":false,"zero":false},"axis":null},"text":{"field":"open"}}},
 {"data":{"name":"capE"},"mark":{"type":"text","font":"Liberation Serif","fontSize":86,"fontWeight":"bold","align":"left","baseline":"middle","dx":-241.7,"color":"#000000"},
  "encoding":{"x":{"datum":0.4982,"type":"quantitative","scale":{"domain":[-0.02517,1.0051],"nice":false,"zero":false},"axis":null},
   "y":{"datum":-0.4541,"type":"quantitative","scale":{"domain":[-0.83674,9.08673],"nice":false,"zero":false},"axis":null},"text":{"field":"letter"}}},
 {"data":{"name":"capE"},"mark":{"type":"text","font":"Liberation Serif","fontSize":86,"align":"left","baseline":"middle","dx":-203.5,"color":"#000000"},
  "encoding":{"x":{"datum":0.4982,"type":"quantitative","scale":{"domain":[-0.02517,1.0051],"nice":false,"zero":false},"axis":null},
   "y":{"datum":-0.4541,"type":"quantitative","scale":{"domain":[-0.83674,9.08673],"nice":false,"zero":false},"axis":null},"text":{"field":"rest"}}}
]}
]
}
